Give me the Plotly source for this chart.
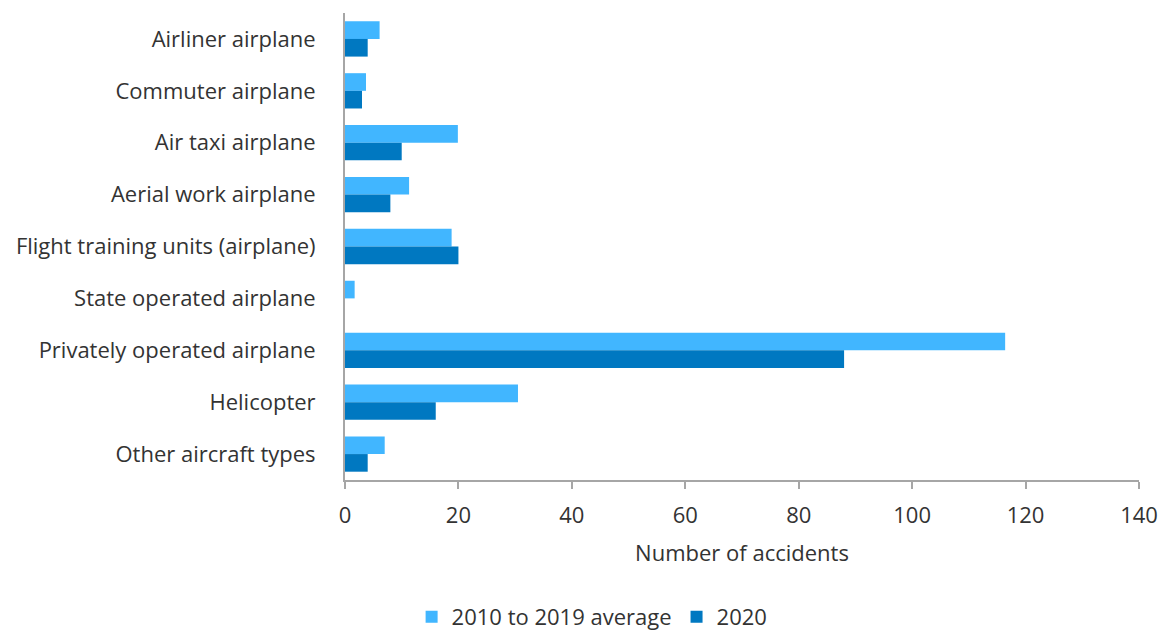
import plotly.graph_objects as go

categories = ["Airliner airplane", "Commuter airplane", "Air taxi airplane", "Aerial work airplane",
              "Flight training units (airplane)", "State operated airplane",
              "Privately operated airplane", "Helicopter", "Other aircraft types"]
avg_2010_2019 = [6.1, 3.7, 19.9, 11.3, 18.8, 1.7, 116.4, 30.5, 7.0]
values_2020 = [4, 3, 10, 8, 20, 0, 88, 16, 4]
x_ticks = [0, 20, 40, 60, 80, 100, 120, 140]

font_family = "Open Sans, Noto Sans, sans-serif"
txt = "#333333"
fig = go.Figure()
fig.add_trace(go.Bar(y=categories, x=avg_2010_2019, orientation="h", name="2010 to 2019 average",
                     marker=dict(color="#41b6ff", line=dict(width=0))))
fig.add_trace(go.Bar(y=categories, x=values_2020, orientation="h", name="2020",
                     marker=dict(color="#0078c1", line=dict(width=0))))

fig.update_layout(
    width=1161, height=638,
    margin=dict(l=345, r=22, t=13, b=158, autoexpand=False),
    paper_bgcolor="white", plot_bgcolor="white",
    barmode="group", bargap=0.32, bargroupgap=0,
    font=dict(family=font_family, size=22, color=txt),
    legend=dict(orientation="h", x=0.51, xanchor="center", xref="container",
                y=0.0, yanchor="bottom", yref="container",
                font=dict(size=22, color=txt), traceorder="normal", itemwidth=30),
    showlegend=True,
)
fig.update_xaxes(range=[0, 140], tickvals=x_ticks, showgrid=False, zeroline=False,
                 showline=True, linecolor="#a6a6a6", linewidth=2,
                 ticks="outside", ticklen=7, tickcolor="#a6a6a6", tickwidth=2,
                 ticklabelstandoff=8, automargin=False,
                 tickfont=dict(size=22, color=txt),
                 title=dict(text="Number of accidents", font=dict(size=22, color=txt), standoff=17))
fig.update_yaxes(autorange="reversed", showgrid=False, zeroline=False, automargin=False,
                 showline=True, linecolor="#a6a6a6", linewidth=2, ticks="",
                 ticklabelstandoff=23, tickfont=dict(size=22, color=txt))

fig.write_html("out.html")
